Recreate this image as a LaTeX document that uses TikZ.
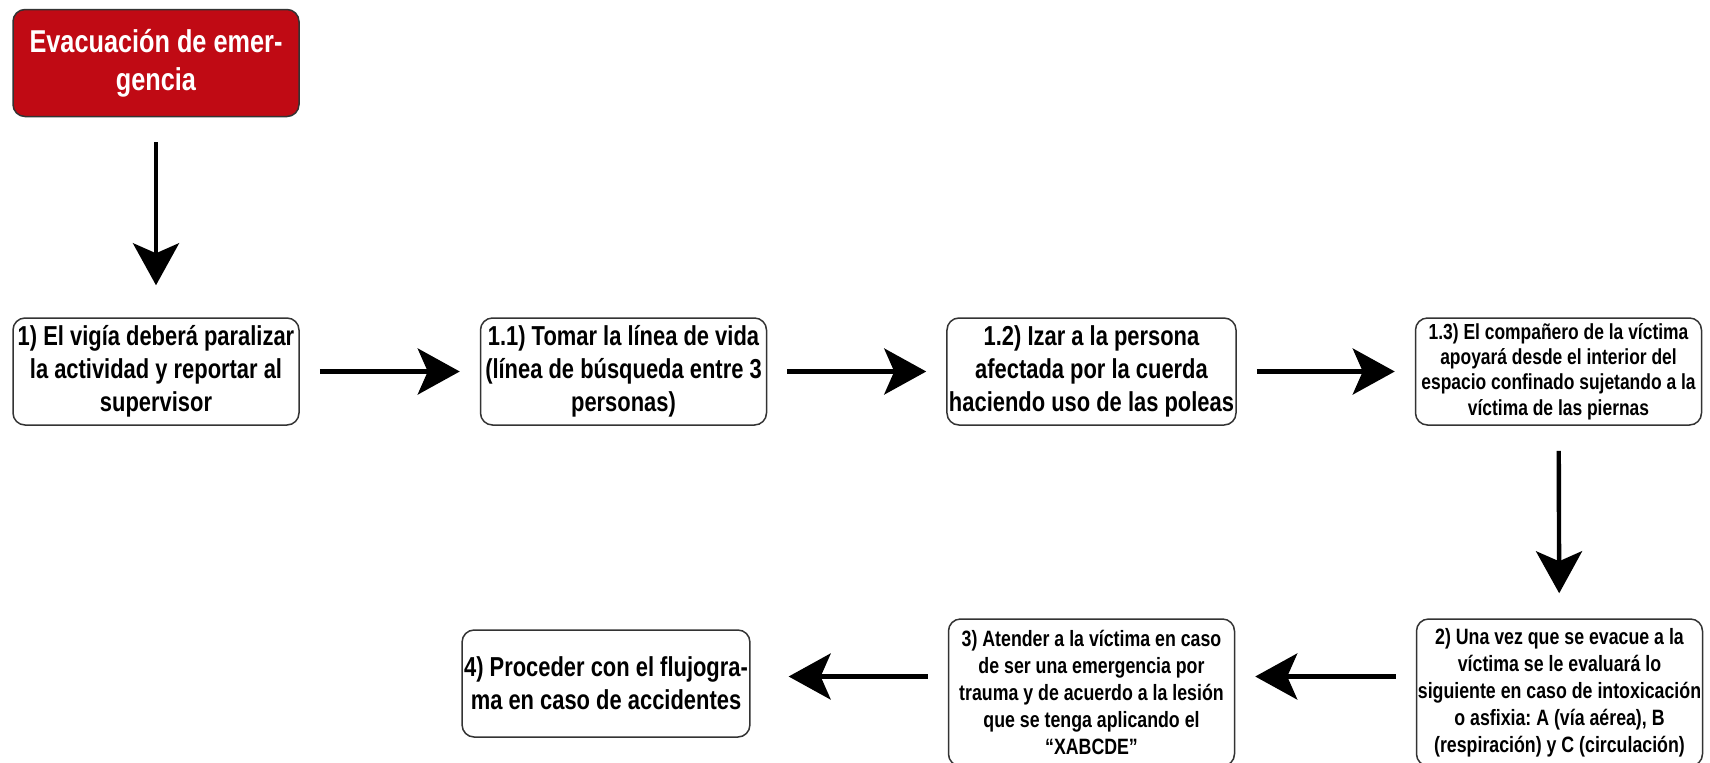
\documentclass[tikz,border=0pt]{standalone}
\usepackage{fontspec}
\newfontfamily\boxfont{Liberation Sans}[FakeStretch=0.8]
\usetikzlibrary{arrows.meta}
\definecolor{alarmred}{RGB}{192,10,20}
\frenchspacing
\tikzset{
  box/.style={draw=black!80,line width=0.75pt,rounded corners=6pt,
    minimum width=143pt,minimum height=53.5pt,inner sep=1pt,align=center,
    font=\boxfont\bfseries\fontsize{13.7}{16.4}\selectfont},
  smallbox/.style={box,minimum height=73.5pt,inner sep=0pt,
    font=\boxfont\bfseries\fontsize{11.1}{13.5}\selectfont},
  titlebox/.style={box,fill=alarmred,text=white,
    font=\boxfont\bfseries\fontsize{15.8}{19}\selectfont},
  arr/.style={line width=2.2pt,-{Stealth[length=21pt,width=23pt,inset=5pt]},
    shorten <=10pt,shorten >=10pt},
}

\begin{document}
\begin{tikzpicture}[x=0.5pt,y=-0.5pt]
    \useasboundingbox (0,0) rectangle (1710,762);
    \path ( 156,  63) node [titlebox] (title) {Evacuación de emer-\\gencia};
    \path ( 156,371.5) node [box] (vigia) {1) El vigía deberá paralizar\\la actividad y reportar al\\supervisor};
    \path (623.5,371.5) node [box] (linea) {1.1) Tomar la línea de vida\\(línea de búsqueda entre 3\\personas)};
    \path (1091.5,371.5) node [box] (izar) {1.2) Izar a la persona\\afectada por la cuerda\\haciendo uso de las poleas};
    \path (1558.5,371.5) node [smallbox,minimum height=53.5pt,
      font=\boxfont\bfseries\fontsize{10.9}{12.6}\selectfont] (apoyo) {1.3) El compañero de la víctima\\apoyará desde el interior del\\espacio confinado sujetando a la\\víctima de las piernas};
    \path (1559.5,692.5) node [smallbox] (evaluar) {2) Una vez que se evacue a la\\víctima se le evaluará lo\\siguiente en caso de intoxicación\\o asfixia: A (vía aérea), B\\(respiración) y C (circulación)};
    \path (1091.5,692.5) node [smallbox] (atender) {3) Atender a la víctima en caso\\de ser una emergencia por\\trauma y de acuerdo a la lesión\\que se tenga aplicando el\\“XABCDE”};
    \path ( 606,683.5) node [box] (proceder) {4) Proceder con el flujogra-\\ma en caso de accidentes};
    \draw [arr,shorten <=12.5pt,shorten >=16pt] (title) -- (vigia);
    \draw [arr] (vigia) -- (linea);
    \draw [arr] (linea) -- (izar);
    \draw [arr] (izar) -- (apoyo);
    \draw [arr,shorten <=12.5pt,shorten >=12.5pt] (apoyo) -- (evaluar);
    \draw [arr] ([yshift=8pt]evaluar.west) -- ([yshift=8pt]atender.east);
    \draw [arr,shorten >=19pt] ([yshift=8pt]atender.west) -- ([yshift=8pt]atender.west -| proceder.east);
\end{tikzpicture}
\end{document}
